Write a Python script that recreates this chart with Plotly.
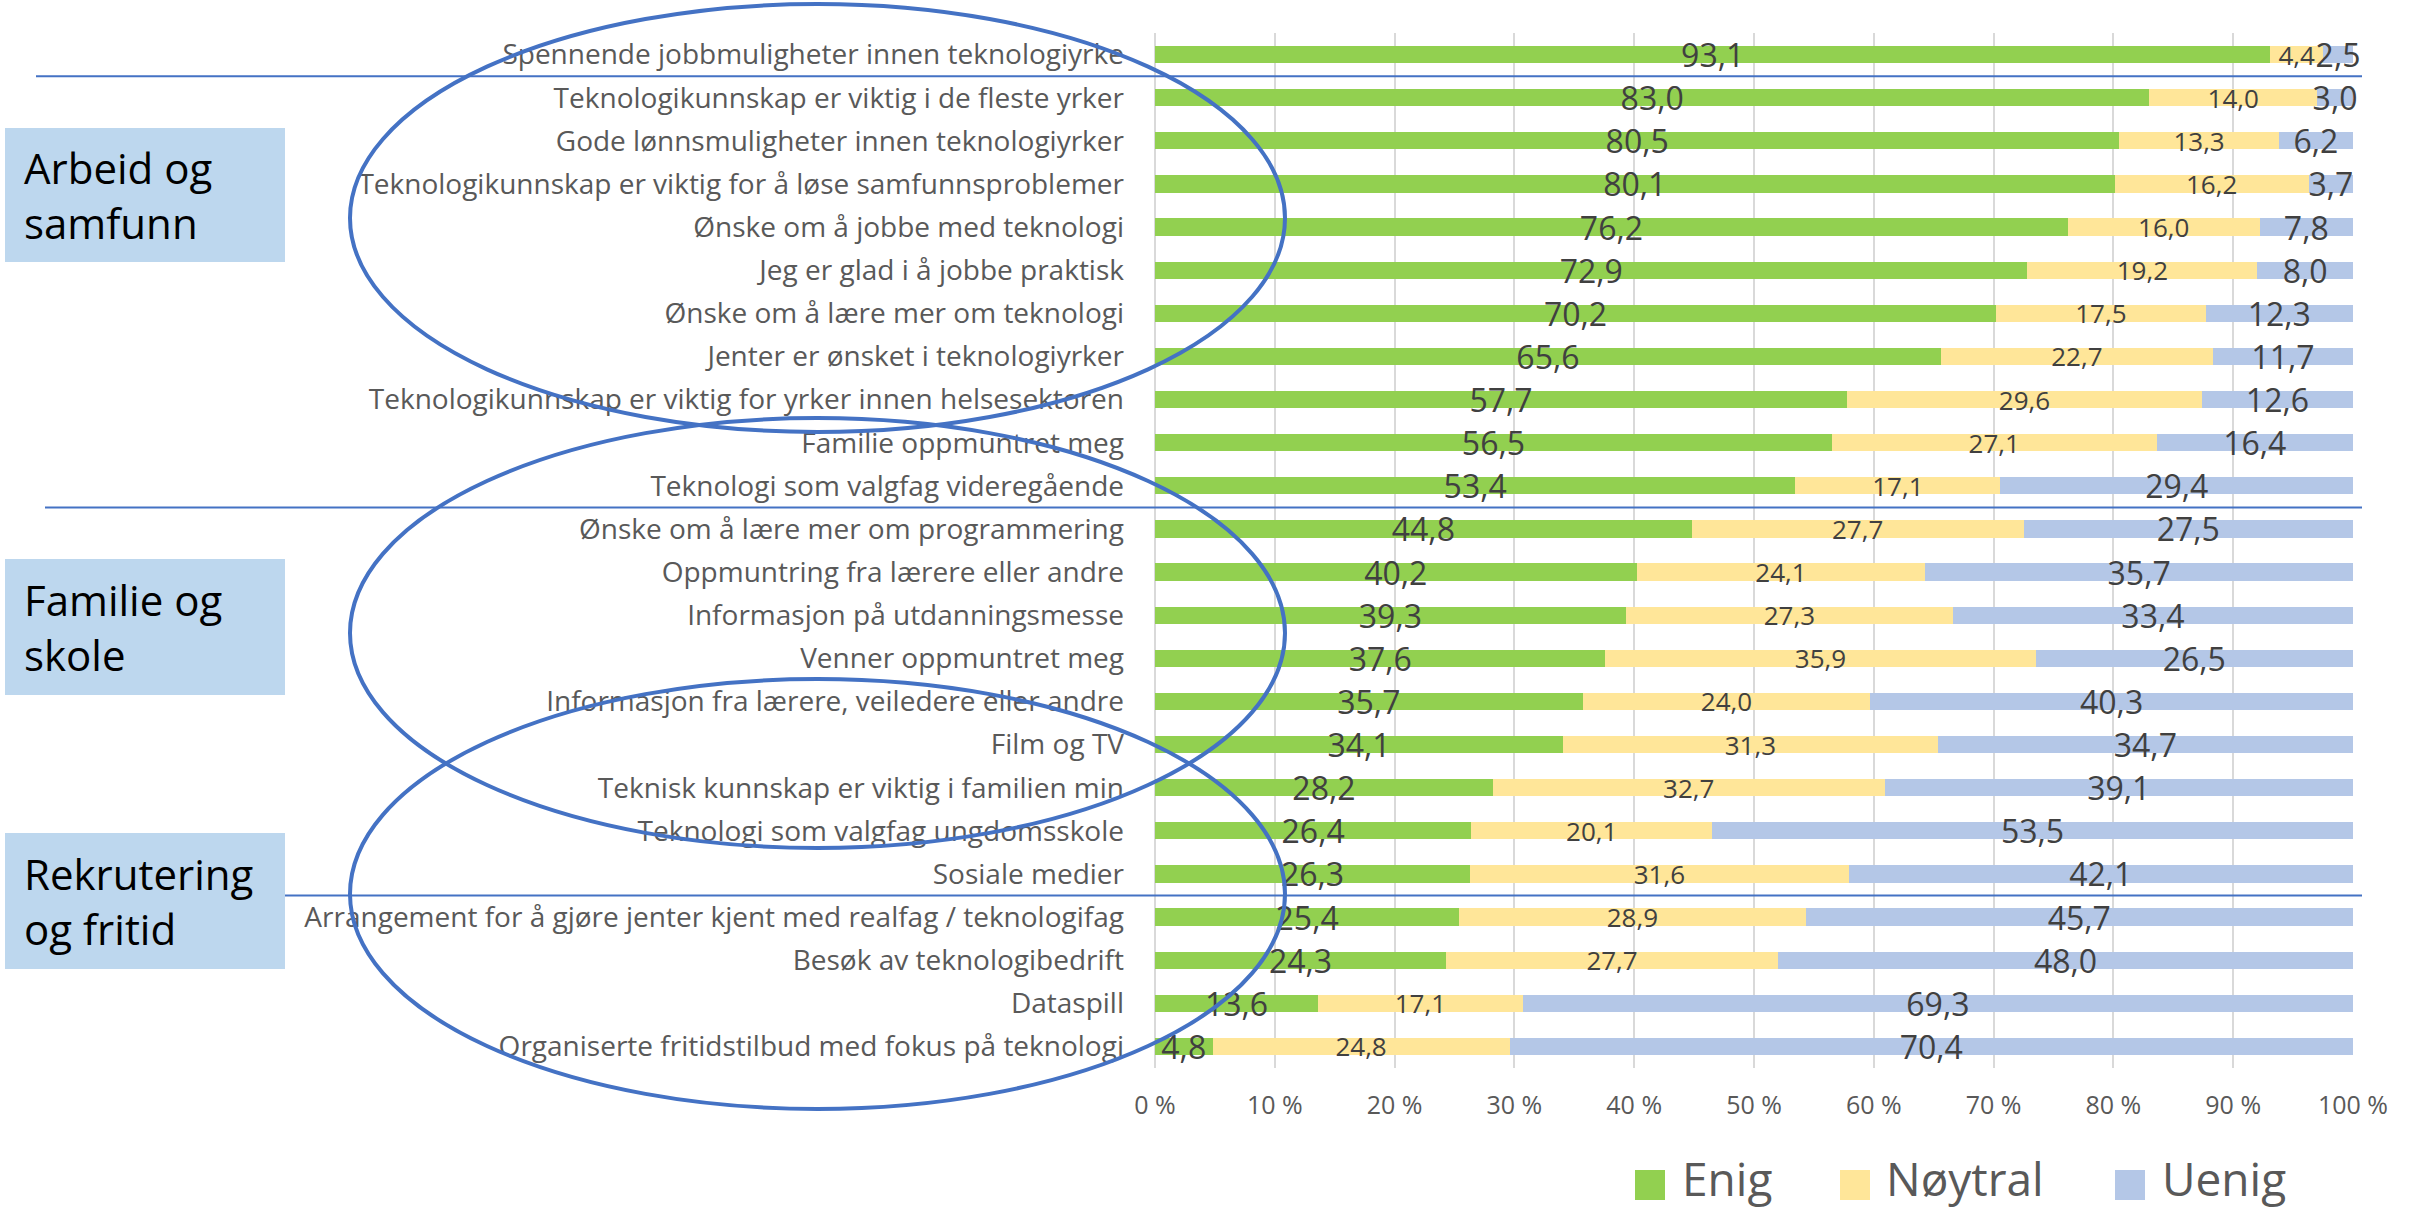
import plotly.graph_objects as go

# ---------------- data ----------------
categories = [
    "Spennende jobbmuligheter innen teknologiyrke",
    "Teknologikunnskap er viktig i de fleste yrker",
    "Gode lønnsmuligheter innen teknologiyrker",
    "Teknologikunnskap er viktig for å løse samfunnsproblemer",
    "Ønske om å jobbe med teknologi",
    "Jeg er glad i å jobbe praktisk",
    "Ønske om å lære mer om teknologi",
    "Jenter er ønsket i teknologiyrker",
    "Teknologikunnskap er viktig for yrker innen helsesektoren",
    "Familie oppmuntret meg",
    "Teknologi som valgfag videregående",
    "Ønske om å lære mer om programmering",
    "Oppmuntring fra lærere eller andre",
    "Informasjon på utdanningsmesse",
    "Venner oppmuntret meg",
    "Informasjon fra lærere, veiledere eller andre",
    "Film og TV",
    "Teknisk kunnskap er viktig i familien min",
    "Teknologi som valgfag ungdomsskole",
    "Sosiale medier",
    "Arrangement for å gjøre jenter kjent med realfag / teknologifag",
    "Besøk av teknologibedrift",
    "Dataspill",
    "Organiserte fritidstilbud med fokus på teknologi",
]
enig = [93.1, 83.0, 80.5, 80.1, 76.2, 72.9, 70.2, 65.6, 57.7, 56.5, 53.4, 44.8,
        40.2, 39.3, 37.6, 35.7, 34.1, 28.2, 26.4, 26.3, 25.4, 24.3, 13.6, 4.8]
noytral = [4.4, 14.0, 13.3, 16.2, 16.0, 19.2, 17.5, 22.7, 29.6, 27.1, 17.1, 27.7,
           24.1, 27.3, 35.9, 24.0, 31.3, 32.7, 20.1, 31.6, 28.9, 27.7, 17.1, 24.8]
uenig = [2.5, 3.0, 6.2, 3.7, 7.8, 8.0, 12.3, 11.7, 12.6, 16.4, 29.4, 27.5,
         35.7, 33.4, 26.5, 40.3, 34.7, 39.1, 53.5, 42.1, 45.7, 48.0, 69.3, 70.4]
series_names = ["Enig", "Nøytral", "Uenig"]
group_names = ["Arbeid og<br>samfunn", "Familie og<br>skole", "Rekrutering<br>og fritid"]
group_breaks = [0.5, 10.5, 19.5]   # category boundaries of separator lines

# ---------------- styling ----------------
W, H = 2414, 1209
L, R, T, B = 1155, 2353, 33, 1068
colors = ["#92D050", "#FFE699", "#B4C7E7"]
label_sizes = [32, 26, 32]
FONT = "Open Sans, Liberation Sans, Arial, sans-serif"
BLUE = "#4472C4"


def fmt(v):
    return f"{v:.1f}".replace(".", ",")


def px_x(px):
    return (px - L) / (R - L)


def px_y(py):
    return (B - py) / (B - T)


fig = go.Figure()
for name, vals, col, ls in zip(series_names, [enig, noytral, uenig], colors, label_sizes):
    fig.add_trace(go.Bar(
        name=name, y=categories, x=vals, orientation="h",
        marker=dict(color=col, line=dict(width=0)),
        text=[fmt(v) for v in vals], textposition="inside",
        insidetextanchor="middle", textangle=0, constraintext="none",
        textfont=dict(family=FONT, size=ls, color="#404040"),
        showlegend=False, cliponaxis=False,
    ))

n = len(categories)
shapes = []
# separator lines
line_x0 = [36, 45, 283]
for brk, x0 in zip(group_breaks, line_x0):
    yp = (n - 0.5 - brk) / n
    shapes.append(dict(type="line", xref="paper", yref="paper",
                       x0=px_x(x0), x1=px_x(2362), y0=yp, y1=yp,
                       line=dict(color=BLUE, width=2)))
# group boxes
box_y = [(128, 262), (559, 695), (833, 969)]
annotations = []
for (y0, y1), g in zip(box_y, group_names):
    shapes.append(dict(type="rect", xref="paper", yref="paper",
                       x0=px_x(5), x1=px_x(285), y0=px_y(y1), y1=px_y(y0),
                       fillcolor="#BDD7EE", line=dict(width=0)))
    annotations.append(dict(xref="paper", yref="paper", x=px_x(22), y=px_y((y0 + y1) / 2),
                            xanchor="left", yanchor="middle", align="left", showarrow=False,
                            text=g, font=dict(family=FONT, size=42, color="#000000")))
# ellipses
ell_y = [(4, 432), (418, 848), (679, 1109)]
for y0, y1 in ell_y:
    shapes.append(dict(type="circle", xref="paper", yref="paper",
                       x0=px_x(350), x1=px_x(1285), y0=px_y(y1), y1=px_y(y0),
                       line=dict(color=BLUE, width=4)))
# custom legend
leg_sq = [1635, 1840, 2115]
leg_tx = [1680, 1884, 2160]
for name, col, sx, tx in zip(series_names, colors, leg_sq, leg_tx):
    shapes.append(dict(type="rect", xref="paper", yref="paper",
                       x0=px_x(sx), x1=px_x(sx + 30), y0=px_y(1200), y1=px_y(1170),
                       fillcolor=col, line=dict(width=0)))
    annotations.append(dict(xref="paper", yref="paper", x=px_x(tx), y=px_y(1178),
                            xanchor="left", yanchor="middle", showarrow=False,
                            text=name, font=dict(family=FONT, size=46, color="#595959")))

fig.update_layout(
    width=W, height=H,
    margin=dict(l=L, r=W - R, t=T, b=H - B, autoexpand=False),
    barmode="stack", barnorm="percent", bargap=0.6,
    plot_bgcolor="white", paper_bgcolor="white",
    font=dict(family=FONT, color="#595959"),
    shapes=shapes, annotations=annotations, showlegend=False,
    xaxis=dict(range=[0, 100], dtick=10, tick0=0, ticksuffix=" %",
               showgrid=True, gridcolor="#D9D9D9", gridwidth=1.5,
               zeroline=True, zerolinecolor="#D9D9D9", zerolinewidth=1.5,
               showline=False, ticks="", ticklabelstandoff=20,
               tickfont=dict(family=FONT, size=25, color="#595959"), fixedrange=True),
    yaxis=dict(type="category", categoryorder="array", categoryarray=categories,
               range=[n - 0.5, -0.5], showgrid=False, zeroline=False, showline=False,
               ticks="", ticklabelstandoff=30,
               tickfont=dict(family=FONT, size=28, color="#595959"), fixedrange=True),
)

fig.write_html(
    "out.html",
    config={"displayModeBar": False},
    post_script="document.body.style.margin='0';document.body.style.overflow='hidden';",
)
